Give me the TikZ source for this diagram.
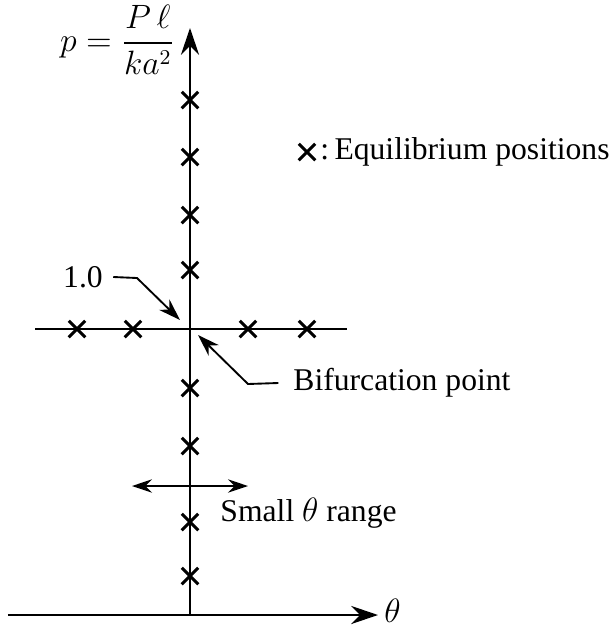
\documentclass[tikz,border=0pt]{standalone}
\usepackage{amsmath}
\usepackage{fontspec}
\setmainfont{Liberation Serif}
\usepackage{tikz}
\usetikzlibrary{arrows.meta, shapes.misc}

\tikzset{
  eqpt/.style={cross out, draw, line width=1.35pt, minimum size=2mm, inner sep=0pt},
  axisline/.style={line width=1.2pt},
  leadline/.style={line width=0.8pt},
  lbl/.style={font=\fontsize{13.5}{16}\selectfont, inner sep=0pt},
}

\begin{document}
\begin{tikzpicture}[x=0.15mm, y=-0.15mm]
  \useasboundingbox (0,0) rectangle (609,627);
  % Axes
  \coordinate (orig) at (190,615);
  \coordinate (ptop) at (190,28);
  \coordinate (tleft) at (8,615);
  \coordinate (tright) at (378,615);
  \draw[axisline, -{Stealth[length=4mm, width=2.7mm]}] (tleft) -- (tright);
  \draw[axisline, -{Stealth[length=4mm, width=2.7mm]}] (orig) -- (ptop);
  \node[lbl, right] (thetalbl) at (384,611) {$\theta$};
  \node[lbl, left] (plbl) at (175,40) {$p=\dfrac{P\,\ell}{ka^2}$};

  % Branch at p = 1
  \coordinate (brleft) at (35,329);
  \coordinate (brright) at (347,329);
  \draw[axisline] (brleft) -- (brright);

  % Equilibrium positions
  \foreach \y [count=\i] in {100,157,215,270,388,446,522,576}
    \node[eqpt] (v\i) at (190,\y) {};
  \foreach \x [count=\i] in {77,133,248,307}
    \node[eqpt] (h\i) at (\x,329) {};

  % Labels with leaders
  \node[lbl] (onelbl) at (83,277) {1.0};
  \coordinate (oneknee) at (137,278);
  \coordinate (onetip) at (180,320);
  \draw[leadline, -{Stealth[length=3.3mm, width=2.2mm]}]
    ([xshift=1.5mm]onelbl.east) -- (oneknee) -- (onetip);

  \node[lbl, right] (biflbl) at (293,383) {Bifurcation point};
  \coordinate (bifknee) at (248,384);
  \coordinate (biftip) at (198,335);
  \draw[leadline, -{Stealth[length=3.3mm, width=2.2mm]}]
    ([xshift=-2.2mm]biflbl.west) -- (bifknee) -- (biftip);

  % Small theta range
  \coordinate (rngleft) at (132,486);
  \coordinate (rngright) at (248,486);
  \draw[leadline, {Stealth[length=3mm, width=2mm]}-{Stealth[length=3mm, width=2mm]}] (rngleft) -- (rngright);
  \node[lbl, right] (rnglbl) at (220,513) {Small $\theta$ range};

  % Key
  \node[eqpt] (keymark) at (307,152) {};
  \node[lbl, right] (keylbl) at (320,152) {:\,Equilibrium positions};
\end{tikzpicture}
\end{document}
